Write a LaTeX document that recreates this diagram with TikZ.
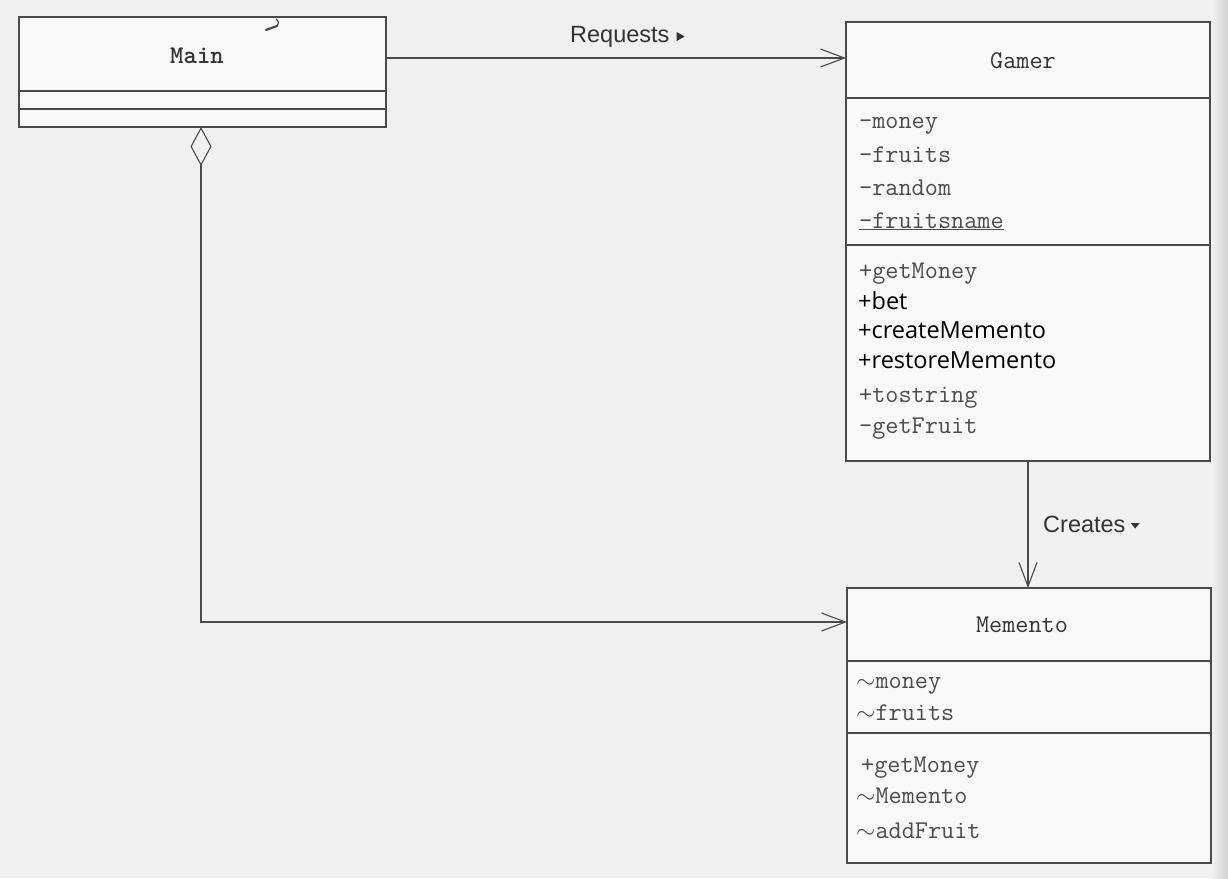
\documentclass[tikz,border=0pt]{standalone}
\usepackage{fontspec}
\newfontfamily\labelfont{Liberation Sans}
\newfontfamily\opfont{Open Sans}
\usetikzlibrary{arrows.meta,calc}
\definecolor{pagegray}{HTML}{F0F0F0}
\definecolor{boxfill}{HTML}{F8F8F8}
\definecolor{linegray}{HTML}{4A4A4A}
\definecolor{textgray}{HTML}{4C4C4C}
\definecolor{titlegray}{HTML}{333333}
\definecolor{labelgray}{HTML}{333333}
\begin{document}
\begin{tikzpicture}[x=1pt,y=-1pt,
  line/.style={draw=linegray, line width=1.1pt},
  classbox/.style={line, fill=boxfill, anchor=north west, inner sep=0pt, outer sep=0pt},
  member/.style={anchor=base west, inner sep=0pt, text=textgray,
    font=\ttfamily\fontsize{25.5}{30}\selectfont},
  opsans/.style={anchor=base west, inner sep=0pt, text=black,
    font=\opfont\fontsize{23.5}{28}\selectfont},
  classtitle/.style={anchor=base, inner sep=0pt, text=titlegray,
    font=\ttfamily\fontsize{25.5}{30}\selectfont},
  rolelabel/.style={anchor=base west, inner sep=0pt, text=labelgray,
    font=\labelfont\fontsize{23.5}{28}\selectfont},
  navtip/.style={fill=labelgray, draw=none},
  opentip/.style={-{Straight Barb[length=24pt,width=18pt]}},
  aggtip/.style={{Diamond[open,length=39pt,width=21pt]}-{Straight Barb[length=24pt,width=18pt]}}
]
% page
\fill[pagegray] (0,0) rectangle (1228,878);
\shade[left color=pagegray, right color=black!18] (1212,0) rectangle (1228,878);
\useasboundingbox (0,0) rectangle (1228,878);

% ---- class Main ----
\node[classbox, minimum width=367pt, minimum height=110pt] (main) at (19,17) {};
\draw[line] ($(main.north west)+(0,74)$) -- ($(main.north east)+(0,74)$);
\draw[line] ($(main.north west)+(0,92)$) -- ($(main.north east)+(0,92)$);
\node[classtitle, font=\ttfamily\bfseries\fontsize{25.5}{30}\selectfont] (maint) at (197,63) {Main};
% pen mark in the title compartment
\draw[linegray, line width=2.2pt, line cap=round] (266,30) -- (277,26);
\draw[linegray, line width=1.2pt, line cap=round] (276,19) .. controls (279,22) .. (277,26);

% ---- class Gamer ----
\node[classbox, minimum width=364pt, minimum height=439pt] (gamer) at (846,22) {};
\draw[line] ($(gamer.north west)+(0,76)$) -- ($(gamer.north east)+(0,76)$);
\draw[line] ($(gamer.north west)+(0,223)$) -- ($(gamer.north east)+(0,223)$);
\node[classtitle] (gamert) at (1023,68) {Gamer};
\node[member] (g1) at (859,128) {-money};
\node[member] (g2) at (859,162) {-fruits};
\node[member] (g3) at (859,195) {-random};
\node[member] (g4) at (859,228) {\underline{-fruitsname}};
\node[member] (g5) at (859,278) {+getMoney};
\node[opsans] (g6) at (858,309) {+bet};
\node[opsans] (g7) at (858,338) {+createMemento};
\node[opsans] (g8) at (858,368) {+restoreMemento};
\node[member] (g9) at (859,402) {+tostring};
\node[member] (g10) at (859,433) {-getFruit};

% ---- class Memento ----
\node[classbox, minimum width=364pt, minimum height=275pt] (memento) at (847,588) {};
\draw[line] ($(memento.north west)+(0,73)$) -- ($(memento.north east)+(0,73)$);
\draw[line] ($(memento.north west)+(0,145)$) -- ($(memento.north east)+(0,145)$);
\node[classtitle] (mementot) at (1022,632) {Memento};
\node[member] (m1) at (856,688) {$\sim$money};
\node[member] (m2) at (856,720) {$\sim$fruits};
\node[member] (m3) at (861,772) {+getMoney};
\node[member] (m4) at (856,803) {$\sim$Memento};
\node[member] (m5) at (856,838) {$\sim$addFruit};

% ---- relations ----
\coordinate (reqy) at (0,58);
\coordinate (aggx) at (201,0);
\coordinate (memy) at (0,622);

% Main requests Gamer
\draw[line, opentip] (main.east |- reqy) -- (gamer.west |- reqy);
\node[rolelabel] (req) at (570,42) {Requests};
\fill[navtip] ($(req.base east)+(7,-10)$) -- ($(req.base east)+(15,-5.5)$) -- ($(req.base east)+(7,-1)$) -- cycle;

% Gamer creates Memento
\draw[line, opentip] (gamer.south) -- (gamer.south |- memento.north);
\node[rolelabel] (cre) at (1043,532) {Creates};
\fill[navtip] ($(cre.base east)+(5,-9)$) -- ($(cre.base east)+(14,-9)$) -- ($(cre.base east)+(9.5,-3.5)$) -- cycle;

% Main aggregates Memento
\draw[line, aggtip] (main.south -| aggx) |- (memento.west |- memy);
\end{tikzpicture}
\end{document}
